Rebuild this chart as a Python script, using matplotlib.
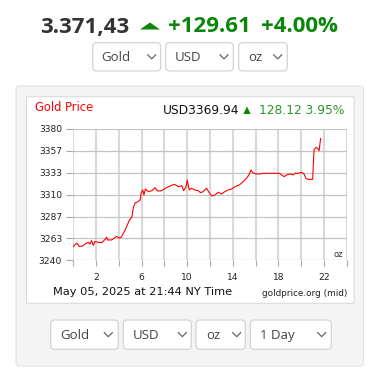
import numpy as np
import matplotlib
matplotlib.use('Agg')
import matplotlib.pyplot as plt
from matplotlib.patches import FancyBboxPatch, Polygon

# intraday gold price (hours since 0:00, USD/oz)
hours = [0.0, 0.2, 0.35, 0.53, 0.82, 1.03, 1.32, 1.47, 1.6, 1.76, 1.9, 2.2, 2.5, 2.8, 2.93,
         3.0, 3.37, 3.58, 3.8, 4.0, 4.2, 4.55, 4.93, 5.13, 5.28, 5.43, 5.63, 5.87, 5.95,
         6.1, 6.2, 6.33, 6.6, 6.9, 7.18, 7.4, 7.77, 7.98, 8.36, 8.86, 9.24, 9.53, 9.68,
         9.9, 10.0, 10.18, 10.38, 10.67, 10.97, 11.17, 11.4, 11.7, 11.93, 12.14, 12.43,
         12.72, 13.0, 13.3, 13.6, 13.9, 14.19, 14.57, 14.92, 15.2, 15.41, 15.6, 15.74,
         16.03, 16.38, 16.68, 17.26, 18.08, 18.29, 18.52, 18.73, 19.02, 19.31, 19.46,
         19.75, 20.04, 20.25, 20.42, 20.63, 21.01, 21.13, 21.3, 21.45, 21.58, 21.71]
prices = [3254.6, 3257.4, 3258.1, 3254.6, 3255.3, 3257.4, 3259.2, 3257.4, 3261.0, 3256.0,
          3260.0, 3259.2, 3258.8, 3262.4, 3264.5, 3261.7, 3261.7, 3263.5, 3265.6, 3263.8,
          3264.5, 3272.3, 3283.0, 3285.8, 3296.5, 3301.5, 3302.2, 3304.3, 3311.4, 3315.0,
          3309.6, 3316.0, 3313.2, 3314.3, 3317.5, 3313.9, 3314.3, 3316.0, 3318.5, 3321.0,
          3318.5, 3319.6, 3314.3, 3318.5, 3325.6, 3315.0, 3316.8, 3315.0, 3314.3, 3312.1,
          3313.2, 3316.8, 3312.1, 3308.6, 3309.6, 3312.5, 3310.7, 3313.2, 3315.0, 3316.0,
          3318.5, 3320.3, 3323.9, 3327.4, 3331.0, 3336.3, 3333.5, 3332.1, 3332.1, 3332.8,
          3332.8, 3332.8, 3331.0, 3329.2, 3331.0, 3332.1, 3331.0, 3332.8, 3332.8, 3333.8,
          3332.1, 3327.4, 3326.3, 3326.3, 3357.6, 3360.4, 3359.3, 3356.8, 3369.94]

yticks = [3240, 3263.33, 3286.67, 3310, 3333.33, 3356.67, 3380]
ytick_labels = ['3240', '3263', '3287', '3310', '3333', '3357', '3380']
xticks = list(range(0, 25, 2))
xtick_labels = ['' if h % 4 == 0 else str(h) for h in xticks]

top_selects = ['Gold', 'USD', 'oz']
bottom_selects = ['Gold', 'USD', 'oz', '1 Day']

W, H = 368, 372
fig = plt.figure(figsize=(W / 100, H / 100), dpi=100)

# full-figure axes in pixel units for the page elements
bg = fig.add_axes([0, 0, 1, 1])
bg.set_xlim(0, W)
bg.set_ylim(H, 0)
bg.axis('off')


def box(x0, y0, x1, y1, fc, ec, r=3, lw=0.8):
    bg.add_patch(FancyBboxPatch((x0, y0), x1 - x0, y1 - y0,
                                boxstyle='round,pad=0,rounding_size=%g' % r,
                                fc=fc, ec=ec, lw=lw))


def chevron(cx, cy):
    bg.plot([cx - 4, cx, cx + 4], [cy - 2, cy + 2, cy - 2], color='#666', lw=0.9)


def triangle(x0, x1, ytop, ybot, color):
    bg.add_patch(Polygon([(x0, ybot), (x1, ybot), ((x0 + x1) / 2, ytop)],
                         closed=True, fc=color, ec='none'))


def select(x0, x1, y0, y1, label, tx, cx):
    box(x0, y0, x1, y1, 'white', '#cfcfcf', r=4)
    bg.text(tx, (y0 + y1) / 2 + 0.5, label, fontsize=9.5, family='Open Sans',
            color='#444', va='center', ha='left')
    chevron(cx, (y0 + y1) / 2)


# headline
green = '#0a870a'
bg.text(85, 27, '3.371,43', fontsize=16, family='Open Sans', weight='bold',
        color='#333', ha='center', va='center')
triangle(140, 160, 22.5, 29.5, green)
bg.text(209.5, 27, '+129.61', fontsize=16, family='Open Sans', weight='bold',
        color=green, ha='center', va='center')
bg.text(299.5, 27, '+4.00%', fontsize=16, family='Open Sans', weight='bold',
        color=green, ha='center', va='center')

top_pos = [(92.7, 160.7, 101.7, 151.7), (165.7, 233.3, 175, 224), (238.7, 287.3, 248.3, 277.7)]
for lab, (x0, x1, tx, cx) in zip(top_selects, top_pos):
    select(x0, x1, 42.7, 71, lab, tx, cx)

# gray panel and white card
box(16, 86, 363.5, 366, '#f4f4f4', '#e2e2e2', r=3)
box(26.5, 96.7, 354, 303.3, 'white', '#dcdcdc', r=0)

bg.text(35, 107.5, 'Gold Price', fontsize=8.3, color='red', ha='left', va='center')
bg.text(162.7, 110, 'USD3369.94', fontsize=8.8, color='#111', ha='left', va='center')
triangle(243.3, 250.7, 106.5, 114, green)
bg.text(344, 110, '128.12 3.95%', fontsize=8.8, color='#2a962a', ha='right', va='center')

bg.text(53, 292, 'May 05, 2025 at 21:44 NY Time', fontsize=8.2, color='#111',
        ha='left', va='center')
bg.text(347, 293, 'goldprice.org (mid)', fontsize=6.4, color='#222',
        ha='right', va='center')

bottom_pos = [(50.7, 118.3, 60, 108.3), (123.3, 191.3, 132.7, 182.3),
              (196, 245.3, 206, 236.7), (250.3, 331.3, 260, 321.7)]
for lab, (x0, x1, tx, cx) in zip(bottom_selects, bottom_pos):
    select(x0, x1, 320, 349.3, lab, tx, cx)

# price chart
ax = fig.add_axes([73.3 / W, 1 - 260.3 / H, (346.7 - 73.3) / W, (260.3 - 129) / H])
ax.set_facecolor('none')
ax.plot(hours, prices, color='red', lw=0.8, zorder=3)
ax.set_xlim(0, 24)
ax.set_ylim(3240, 3380)
ax.set_xticks(xticks)
ax.set_xticklabels(xtick_labels)
ax.set_yticks(yticks)
ax.set_yticklabels(ytick_labels)
ax.grid(axis='x', color='#d9d9d9', lw=1.5)
ax.grid(axis='y', color='#c4c4c4', lw=0.9)
for s in ax.spines.values():
    s.set_visible(False)
ax.tick_params(axis='both', labelsize=6.6, colors='#aaa', labelcolor='#222',
               width=0.8)
ax.tick_params(axis='y', length=5, pad=3)
ax.tick_params(axis='x', length=4.5, pad=5)
ax.text(0.97, 0.045, 'oz', transform=ax.transAxes, fontsize=6, color='#333',
        ha='center', va='center')

fig.savefig('out.png', dpi=100)
